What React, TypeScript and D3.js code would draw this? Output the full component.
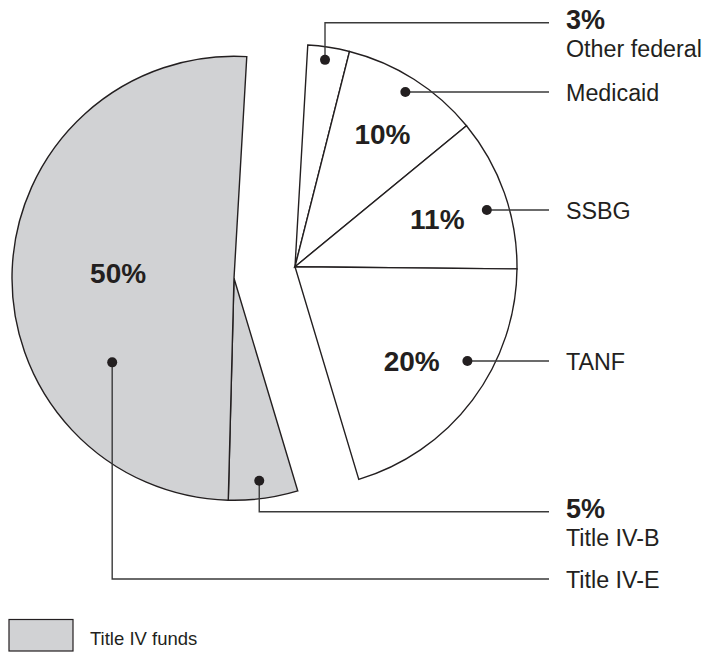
import React from "react";
import * as d3 from "d3";

// funding shares, clockwise from the top
const categories = ["Other federal", "Medicaid", "SSBG", "TANF", "Title IV-B", "Title IV-E"];
const shares = [3, 10, 11, 20, 5, 50];
const titleIV = ["Title IV-B", "Title IV-E"];
const shareLabels = ["3%", "10%", "11%", "20%", "5%", "50%"];

// where the % text sits: inside the slice or next to the name
const labelInside = [false, true, true, true, false, true];
const labelRadius = [0, 159, 150, 150, 0, 116];
const labelAngleShift = [0, 1, 1, 2, 0, 0];

// callout dots (angle from slice middle in degrees, radius) and leader rows
const dotShift = [-0.5, 0, 3, -8, 0.5, -37];
const dotRadius = [209, 206, 200, 197, 204, 148];
const leaderY = [22.7, 92, 210, 361, 511.7, 579];

const W = 708;
const H = 652;
const cx = 295;
const cy = 266.7;
const R = 222;
const explode = [-61, 11.6];
const startDeg = 3.3;

const GRAY = "#d1d2d4";
const INK = "#231f20";
const FONT = "'Liberation Sans', Arial, Helvetica, sans-serif";
const lineEndX = 549;
const textX = 566;

export default function App() {
  const rad = Math.PI / 180;
  const pie = d3
    .pie<number>()
    .sort(null)
    .value((d) => d)
    .startAngle(startDeg * rad)
    .endAngle(startDeg * rad + 2 * Math.PI);
  const arcs = pie(shares);
  const arc = d3.arc<d3.PieArcDatum<number>>().innerRadius(0).outerRadius(R);

  const polar = (a: number, r: number, ox: number, oy: number) => [
    ox + r * Math.sin(a),
    oy - r * Math.cos(a),
  ];

  return (
    <svg
      width={W}
      height={H}
      style={{ position: "absolute", left: 0, top: 0, background: "#fff" }}
      fontFamily={FONT}
    >
      {arcs.map((a, i) => {
        const isIV = titleIV.includes(categories[i]);
        const ox = isIV ? cx + explode[0] : cx;
        const oy = isIV ? cy + explode[1] : cy;
        return (
          <path
            key={categories[i]}
            d={arc(a) || ""}
            transform={`translate(${ox},${oy})`}
            fill={isIV ? GRAY : "#fff"}
            stroke={INK}
            strokeWidth={1.4}
            strokeLinejoin="miter"
          />
        );
      })}

      {arcs.map((a, i) => {
        if (!labelInside[i]) return null;
        const isIV = titleIV.includes(categories[i]);
        const ox = isIV ? cx + explode[0] : cx;
        const oy = isIV ? cy + explode[1] : cy;
        const mid = (a.startAngle + a.endAngle) / 2 + labelAngleShift[i] * rad;
        const [x, y] = polar(mid, labelRadius[i], ox, oy);
        return (
          <text
            key={"pct" + i}
            x={x}
            y={y + 10}
            textAnchor="middle"
            fontWeight="bold"
            fontSize={28}
            fill={INK}
          >
            {shareLabels[i]}
          </text>
        );
      })}

      {arcs.map((a, i) => {
        const isIV = titleIV.includes(categories[i]);
        const ox = isIV ? cx + explode[0] : cx;
        const oy = isIV ? cy + explode[1] : cy;
        const mid = (a.startAngle + a.endAngle) / 2 + dotShift[i] * rad;
        const [x, y] = polar(mid, dotRadius[i], ox, oy);
        const ly = leaderY[i];
        const pts =
          Math.abs(ly - y) < 2
            ? `${x},${ly} ${lineEndX},${ly}`
            : `${x},${y} ${x},${ly} ${lineEndX},${ly}`;
        return (
          <g key={"call" + i}>
            <polyline points={pts} fill="none" stroke="#3a3a3a" strokeWidth={1.4} />
            <circle cx={x} cy={Math.abs(ly - y) < 2 ? ly : y} r={5} fill={INK} />
            {labelInside[i] ? (
              <text x={textX} y={ly + 8.5} fontSize={23.3} fill={INK}>
                {categories[i]}
              </text>
            ) : (
              <>
                <text x={textX} y={ly + 6.5} fontSize={27} fontWeight="bold" fill={INK}>
                  {shareLabels[i]}
                </text>
                <text x={textX} y={ly + 34} fontSize={23.3} fill={INK}>
                  {categories[i]}
                </text>
              </>
            )}
          </g>
        );
      })}

      <rect x={9} y={619.5} width={64} height={31.5} fill={GRAY} stroke={INK} strokeWidth={1.2} />
      <text x={90} y={645} fontSize={18.5} fill={INK}>
        Title IV funds
      </text>
    </svg>
  );
}
